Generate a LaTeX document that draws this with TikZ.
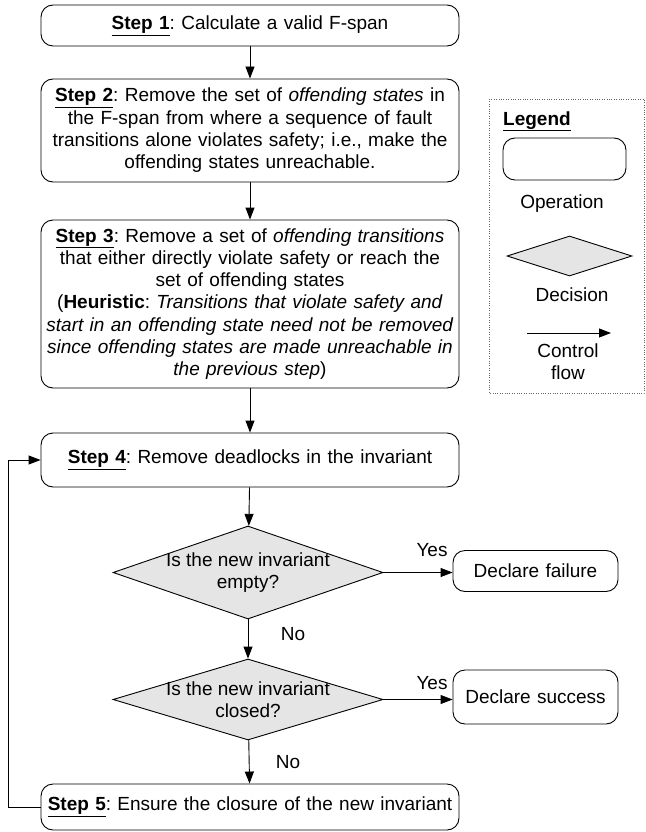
\documentclass[tikz,border=0pt]{standalone}
\usepackage{fontspec}
\setmainfont{Liberation Sans}
\usetikzlibrary{shapes.geometric,arrows.meta}
\frenchspacing

\newcommand{\stepno}[1]{\underline{\textbf{Step #1}}}

\begin{document}
\begin{tikzpicture}[x=1pt,y=-1pt,
    font=\fontsize{19}{22.3}\selectfont,
    op/.style={draw,rounded corners=12pt,line width=.9pt,align=center,
      inner xsep=0pt,text width=418pt,minimum width=418pt},
    dec/.style={draw,diamond,fill=black!10,line width=.9pt,inner sep=0pt,
      minimum width=270pt},
    flow/.style={-{Triangle[length=12pt,width=9pt]},line width=.9pt},
    lbl/.style={inner sep=0pt}]

        \useasboundingbox (0,0) rectangle (645,832);

        % operations and decisions
        \node[op,minimum height=41pt]  (s1) at (250,25.5)  {\stepno{1}: Calculate a valid F-span};
        \node[op,minimum height=103pt] (s2) at (250,130.5) {\stepno{2}: Remove the set of \emph{offending states} in\\
          the F-span from where a sequence of fault\\
          transitions alone violates safety; i.e., make the\\
          offending states unreachable.};
        \node[op,minimum height=168pt] (s3) at (250,304)   {\stepno{3}: Remove a set of \emph{offending transitions}\\
          that either directly violate safety or reach the\\
          set of offending states\\
          (\textbf{Heuristic}: \emph{Transitions that violate safety and}\\
          \emph{start in an offending state need not be removed}\\
          \emph{since offending states are made unreachable in}\\
          \emph{the previous step})};
        \node[op,minimum height=54pt]  (s4) at (250,460)   {\stepno{4}: Remove deadlocks in the invariant};
        \node[dec,minimum height=93pt,
          label={[lbl,align=center]center:Is the new invariant\\empty?}]  (d1) at (248,572.5) {};
        \node[dec,minimum height=81pt,
          label={[lbl,align=center]center:Is the new invariant\\closed?}] (d2) at (248,699.5) {};
        \node[op,minimum height=46pt]  (s5) at (250,807)   {\stepno{5}: Ensure the closure of the new invariant};

        \node[op,text width=165pt,minimum width=165pt,minimum height=41pt] (fail) at (535.5,571) {Declare failure};
        \node[op,text width=165pt,minimum width=165pt,minimum height=54pt] (succ) at (535.5,697) {Declare success};

        % branch labels
        \node[lbl] (yes1) at (432,550) {Yes};
        \node[lbl] (yes2) at (432,683) {Yes};
        \node[lbl] (no1)  at (293,634) {No};
        \node[lbl] (no2)  at (288,762) {No};

        \begin{scope}[every edge/.style={draw,flow}]
          \path (s1) edge (s2);
          \path (s2) edge (s3);
          \path (s3) edge (s4);
          \path (s4) edge (d1);
          \path (d1) edge (d2);
          \path (d2) edge (s5);
          \path (d1.east) edge (d1.east -| fail.west);
          \path (d2.east) edge (d2.east -| succ.west);
        \end{scope}
        \draw[flow] (s5.west) -- ++(-32,0) |- (s4.west);

        % legend
        \draw[dotted,black!60] (489,99) rectangle (644,393);
        \node[lbl,anchor=base west] (legtitle) at (503,125) {\underline{\textbf{Legend}}};
        \node[draw,rounded corners=12pt,line width=.9pt,minimum width=123pt,minimum height=42pt] (legop) at (564.5,159) {};
        \node[lbl] (legoptxt) at (562,204) {Operation};
        \node[dec,minimum width=125pt,minimum height=40pt] (legdec) at (569.5,256) {};
        \node[lbl] (legdectxt) at (572,295) {Decision};
        \coordinate (lega) at (527,333);
        \coordinate (legb) at (611,333);
        \draw[flow] (lega) -- (legb);
        \node[lbl,align=center] (legflow) at (568,362) {Control\\flow};

      \end{tikzpicture}
\end{document}
